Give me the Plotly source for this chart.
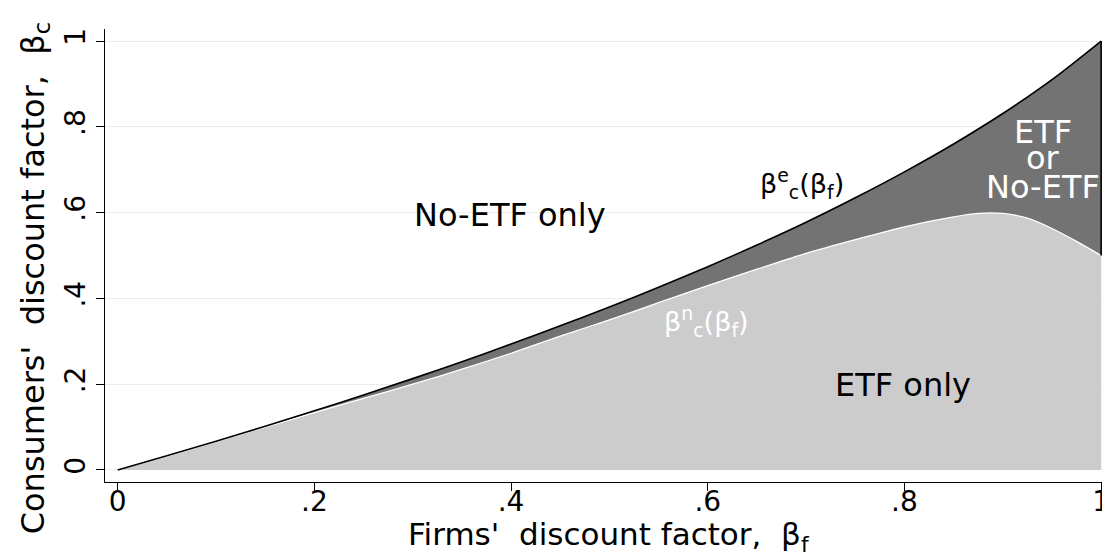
import plotly.graph_objects as go

# Firms' discount factor grid and the two boundary curves
bf_e = [0, 0.05, 0.1, 0.15, 0.2, 0.25, 0.3, 0.35, 0.4, 0.45, 0.5, 0.55, 0.6,
        0.65, 0.7, 0.75, 0.8, 0.85, 0.9, 0.95, 1.0]
bc_e = [0, 0.033, 0.067, 0.102, 0.138, 0.175, 0.213, 0.2525, 0.2935, 0.336,
        0.380, 0.426, 0.474, 0.5245, 0.5775, 0.6345, 0.695, 0.760, 0.831,
        0.910, 1.0]

bf_n = [0, 0.05, 0.1, 0.15, 0.2, 0.25, 0.3, 0.35, 0.4, 0.45, 0.5, 0.55, 0.6,
        0.65, 0.7, 0.75, 0.8, 0.85, 0.875, 0.9, 0.925, 0.95, 0.975, 1.0]
bc_n = [0, 0.032, 0.066, 0.1, 0.134, 0.167, 0.2, 0.235, 0.272, 0.312, 0.35,
        0.39, 0.43, 0.468, 0.505, 0.537, 0.567, 0.59, 0.598, 0.598, 0.587,
        0.563, 0.533, 0.5]

tick_vals = [0, 0.2, 0.4, 0.6, 0.8, 1]
tick_text = ["0", ".2", ".4", ".6", ".8", "1"]

FONT = "DejaVu Sans"
NB = "\u00a0"
DARK = "#737373"
LIGHT = "#cccccc"

fig = go.Figure()

# light region under the no-ETF boundary
fig.add_trace(go.Scatter(
    x=bf_n, y=bc_n, mode="lines", fill="tozeroy", fillcolor=LIGHT,
    line=dict(color="white", width=1.3, shape="spline", smoothing=0.8),
    hoverinfo="skip", showlegend=False))

# dark region between the two boundaries
fig.add_trace(go.Scatter(
    x=bf_e, y=bc_e, mode="lines", fill="tonexty", fillcolor=DARK,
    line=dict(color="black", width=1.6, shape="spline", smoothing=0.8),
    hoverinfo="skip", showlegend=False))

# right edge of the dark region
fig.add_trace(go.Scatter(
    x=[bf_e[-1], bf_n[-1]], y=[bc_e[-1], bc_n[-1]], mode="lines",
    line=dict(color="black", width=1.6), hoverinfo="skip", showlegend=False))

ann = []
ann.append(dict(x=0.399, y=0.594, text="No-ETF only", showarrow=False,
                font=dict(family=FONT, size=32, color="black")))
ann.append(dict(x=0.799, y=0.198, text="ETF only", showarrow=False,
                font=dict(family=FONT, size=32, color="black")))
ann.append(dict(x=0.696, y=0.668, text="β<sup>e</sup><sub>c</sub>(β<sub>f</sub>)",
                showarrow=False, font=dict(family=FONT, size=27, color="black")))
ann.append(dict(x=0.599, y=0.345, text="β<sup>n</sup><sub>c</sub>(β<sub>f</sub>)",
                showarrow=False, font=dict(family=FONT, size=27, color="white")))
for txt, yy in [("ETF", 0.787), ("or", 0.727), ("No-ETF", 0.659)]:
    ann.append(dict(x=0.941, y=yy, text=txt, showarrow=False,
                    font=dict(family=FONT, size=32, color="white")))
# axis titles as annotations
ann.append(dict(xref="paper", yref="paper", x=-0.0697, y=-0.12,
                xanchor="center", yanchor="bottom", textangle=-90,
                text=f"Consumers'{NB}{NB}discount factor,{NB}{NB}β<sub>c</sub>",
                showarrow=False, font=dict(family=FONT, size=32, color="black")))
ann.append(dict(xref="paper", yref="paper", x=0.5015, y=-0.1214,
                xanchor="center", yanchor="middle",
                text=f"Firms'{NB}{NB}discount factor,{NB}{NB}β<sub>f</sub>",
                showarrow=False, font=dict(family=FONT, size=31, color="black")))

fig.update_layout(
    width=1102, height=549,
    margin=dict(l=97, r=0, t=21, b=75),
    paper_bgcolor="white", plot_bgcolor="white",
    font=dict(family=FONT, color="black"),
    annotations=ann,
    xaxis=dict(range=[-0.0129, 1.009], tickvals=tick_vals, ticktext=tick_text,
               showgrid=False, zeroline=False, showline=True, linecolor="black",
               linewidth=1, ticks="outside", ticklen=8, tickcolor="black",
               ticklabelstandoff=-14, ticklabeloverflow="allow",
               tickfont=dict(family=FONT, size=28)),
    yaxis=dict(range=[-0.028, 1.028], tickvals=tick_vals, ticktext=tick_text,
               showgrid=True, gridcolor="#e6eef0", gridwidth=1,
               zeroline=False, showline=True, linecolor="black",
               linewidth=1, ticks="outside", ticklen=8, tickcolor="black",
               tickangle=-90, tickfont=dict(family=FONT, size=28)),
)

fig.write_html("out.html")
